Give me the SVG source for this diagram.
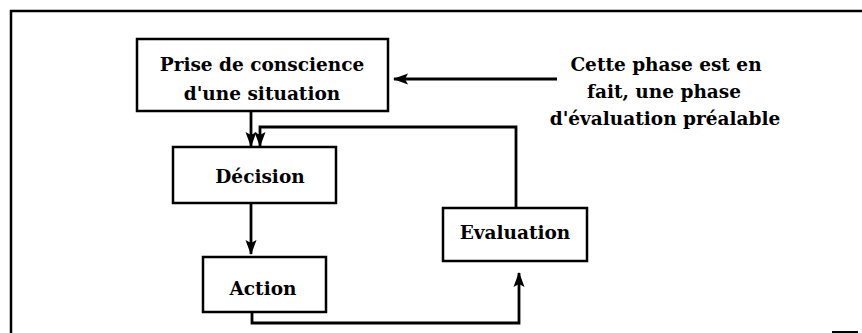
<svg xmlns="http://www.w3.org/2000/svg" width="862" height="333" viewBox="0 0 862 333">
<style>
.box{fill:#fff;stroke:#000;stroke-width:2.5}
.t{font-family:"DejaVu Serif","Liberation Serif",serif;font-weight:bold;font-size:18.5px;fill:#000;text-anchor:middle}
.c{fill:none;stroke:#000;stroke-width:2.8}
.frame{fill:none;stroke:#000;stroke-width:2.5}
</style>
<defs>
<marker id="ah" markerWidth="15" markerHeight="12" viewBox="0 0 15 12" refX="14" refY="6" orient="auto" markerUnits="userSpaceOnUse">
<path d="M0,0.5 L15,6 L0,11.5 L3,6 Z" fill="#000"/>
</marker>
</defs>
<rect width="862" height="333" fill="#fff"/>
<g id="frame">
<path class="frame" d="M11,333 V11 H862"/>
<line x1="832" y1="332" x2="858" y2="332" stroke="#000" stroke-width="2"/>
</g>
<g id="connectors">
<path class="c" d="M251,112 V146" marker-end="url(#ah)"/>
<path class="c" d="M516,208 V127 H260 V146" marker-end="url(#ah)"/>
<path class="c" d="M251,203 V254" marker-end="url(#ah)"/>
<path class="c" d="M252,312 V323 H519 V273" marker-end="url(#ah)"/>
<path class="c" d="M557,79 H394" marker-end="url(#ah)"/>
</g>
<g id="prise">
<rect class="box" x="137" y="39" width="251" height="72"/>
<text class="t" x="262" y="71">Prise de conscience</text>
<text class="t" x="262" y="100">d'une situation</text>
</g>
<g id="decision">
<rect class="box" x="173" y="147" width="163" height="56"/>
<text class="t" x="260" y="183">Décision</text>
</g>
<g id="action">
<rect class="box" x="203" y="257" width="123" height="55"/>
<text class="t" x="263" y="295">Action</text>
</g>
<g id="evaluation">
<rect class="box" x="443" y="208" width="144" height="53"/>
<text class="t" x="515" y="239">Evaluation</text>
</g>
<g id="note">
<text class="t" x="666" y="71">Cette phase est en</text>
<text class="t" x="664" y="98">fait, une phase</text>
<text class="t" x="665" y="125">d'évaluation préalable</text>
</g>
</svg>
